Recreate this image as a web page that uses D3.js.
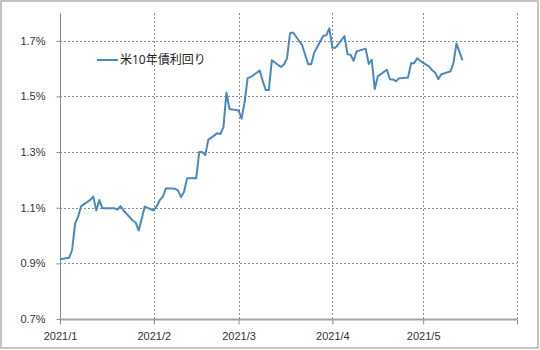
<!DOCTYPE html>
<html>
<head>
<meta charset="utf-8">
<script src="https://cdn.jsdelivr.net/npm/d3@7"></script>
<style>
  body { margin: 0; background: #fff; }
  svg { display: block; font-family: "Open Sans", "Noto Sans CJK JP", sans-serif; }
  .tick-label { font-size: 11px; fill: #333; }
</style>
</head>
<body>
<svg id="chart"></svg>
<script>
// US 10y yield
const dates = [
  '2021-01-01','2021-01-04','2021-01-05','2021-01-06','2021-01-07','2021-01-08',
  '2021-01-11','2021-01-12','2021-01-13','2021-01-14','2021-01-15','2021-01-18',
  '2021-01-19','2021-01-20','2021-01-21','2021-01-22','2021-01-25','2021-01-26',
  '2021-01-27','2021-01-28','2021-01-29','2021-02-01','2021-02-02','2021-02-03',
  '2021-02-04','2021-02-05','2021-02-08','2021-02-09','2021-02-10','2021-02-11',
  '2021-02-12','2021-02-15','2021-02-16','2021-02-17','2021-02-18','2021-02-19',
  '2021-02-22','2021-02-23','2021-02-24','2021-02-25','2021-02-26','2021-03-01',
  '2021-03-02','2021-03-03','2021-03-04','2021-03-05','2021-03-08','2021-03-09',
  '2021-03-10','2021-03-11','2021-03-12','2021-03-15','2021-03-16','2021-03-17',
  '2021-03-18','2021-03-19','2021-03-22','2021-03-23','2021-03-24','2021-03-25',
  '2021-03-26','2021-03-29','2021-03-30','2021-03-31','2021-04-01','2021-04-02',
  '2021-04-05','2021-04-06','2021-04-07','2021-04-08','2021-04-09','2021-04-12',
  '2021-04-13','2021-04-14','2021-04-15','2021-04-16','2021-04-19','2021-04-20',
  '2021-04-21','2021-04-22','2021-04-23','2021-04-26','2021-04-27','2021-04-28',
  '2021-04-29','2021-04-30','2021-05-03','2021-05-04','2021-05-05','2021-05-06',
  '2021-05-07','2021-05-10','2021-05-11','2021-05-12','2021-05-13','2021-05-14'
];
const yields = [
  0.915, 0.920, 0.948, 1.044, 1.068, 1.106,
  1.128, 1.140, 1.090, 1.128, 1.098, 1.098,
  1.098, 1.093, 1.106, 1.090, 1.054, 1.047,
  1.018, 1.060, 1.104, 1.090, 1.106, 1.128,
  1.140, 1.170, 1.168, 1.162, 1.138, 1.158,
  1.206, 1.206, 1.300, 1.300, 1.289, 1.344,
  1.368, 1.365, 1.390, 1.514, 1.455, 1.450,
  1.420, 1.480, 1.566, 1.570, 1.593, 1.555,
  1.523, 1.523, 1.630, 1.606, 1.615, 1.637,
  1.727, 1.730, 1.685, 1.650, 1.616, 1.616,
  1.658, 1.718, 1.720, 1.745, 1.675, 1.675,
  1.717, 1.652, 1.650, 1.628, 1.662, 1.672,
  1.617, 1.632, 1.527, 1.572, 1.596, 1.562,
  1.561, 1.555, 1.565, 1.568, 1.619, 1.619,
  1.637, 1.628, 1.607, 1.594, 1.585, 1.562,
  1.580, 1.590, 1.620, 1.690, 1.660, 1.630
];
const monthTicks = ['2021-01-01','2021-02-01','2021-03-01','2021-04-01','2021-05-01','2021-06-01'];
const monthLabels = ['2021/1','2021/2','2021/3','2021/4','2021/5',''];
const yTicks = [0.7, 0.9, 1.1, 1.3, 1.5, 1.7];
const seriesName = '米10年債利回り';

const width = 540, height = 350;
const margin = { top: 13, right: 23, bottom: 31, left: 60 };

const parse = d3.timeParse('%Y-%m-%d');
const data = dates.map((d, i) => ({ date: parse(d), value: yields[i] }));

const svg = d3.select('#chart').attr('width', width).attr('height', height);

// outer frame
svg.append('rect')
    .attr('x', 1).attr('y', 1)
    .attr('width', width - 3).attr('height', height - 3)
    .attr('fill', '#fff')
    .attr('stroke', '#a6a6a6')
    .attr('stroke-width', 1.3);

const x = d3.scaleTime()
    .domain([parse('2021-01-01'), parse('2021-06-01')])
    .range([margin.left, width - margin.right]);

const y = d3.scaleLinear()
    .domain([0.7, 1.8])
    .range([height - margin.bottom, margin.top]);

// horizontal dashed grid
svg.append('g')
  .selectAll('line')
  .data(yTicks.slice(1))
  .join('line')
    .attr('x1', x.range()[0]).attr('x2', x.range()[1])
    .attr('y1', d => Math.round(y(d)) + 0.5).attr('y2', d => Math.round(y(d)) + 0.5)
    .attr('stroke', '#8c8c8c')
    .attr('stroke-dasharray', '2,2');

// vertical dashed grid
svg.append('g')
  .selectAll('line')
  .data(monthTicks.slice(1))
  .join('line')
    .attr('x1', d => Math.round(x(parse(d))) + 0.5).attr('x2', d => Math.round(x(parse(d))) + 0.5)
    .attr('y1', y.range()[1]).attr('y2', y.range()[0])
    .attr('stroke', '#8c8c8c')
    .attr('stroke-dasharray', '2,2');

// y axis
const yAxis = d3.axisLeft(y)
    .tickValues(yTicks)
    .tickSize(4)
    .tickPadding(11)
    .tickFormat(d3.format('.1%'))
    .tickFormat(d => d.toFixed(1) + '%');
const yAxisG = svg.append('g')
    .attr('transform', `translate(${margin.left + 0.5},0)`)
    .call(yAxis);
yAxisG.select('.domain').attr('stroke', '#8c8c8c').attr('d', `M0,${y.range()[1]}V${y.range()[0]}`);
yAxisG.selectAll('.tick line').attr('stroke', '#8c8c8c');
yAxisG.selectAll('.tick text').attr('class', 'tick-label');

// x axis
const xAxis = d3.axisBottom(x)
    .tickValues(monthTicks.map(parse))
    .tickSize(5)
    .tickPadding(8)
    .tickFormat((d, i) => monthLabels[i]);
const xAxisG = svg.append('g')
    .attr('transform', `translate(0,${height - margin.bottom + 0.5})`)
    .call(xAxis);
xAxisG.select('.domain').attr('stroke', '#a6a6a6').attr('stroke-width', 2)
    .attr('d', `M${x.range()[0]},0H${x.range()[1]}`);
xAxisG.selectAll('.tick line').attr('stroke', '#8c8c8c');
xAxisG.selectAll('.tick text').attr('class', 'tick-label');

// yield line
const line = d3.line()
    .x(d => x(d.date))
    .y(d => y(d.value));

svg.append('path')
    .datum(data)
    .attr('fill', 'none')
    .attr('stroke', '#4a89c0')
    .attr('stroke-width', 2)
    .attr('stroke-linejoin', 'round')
    .attr('d', line);

// legend
const legend = svg.append('g').attr('transform', 'translate(97,60)');
legend.append('line')
    .attr('x1', 0).attr('x2', 21)
    .attr('stroke', '#4a89c0')
    .attr('stroke-width', 2);
legend.append('text')
    .attr('x', 23).attr('y', 4)
    .style('font-size', '12px')
    .style('fill', '#222')
    .text(seriesName);
</script>
</body>
</html>
